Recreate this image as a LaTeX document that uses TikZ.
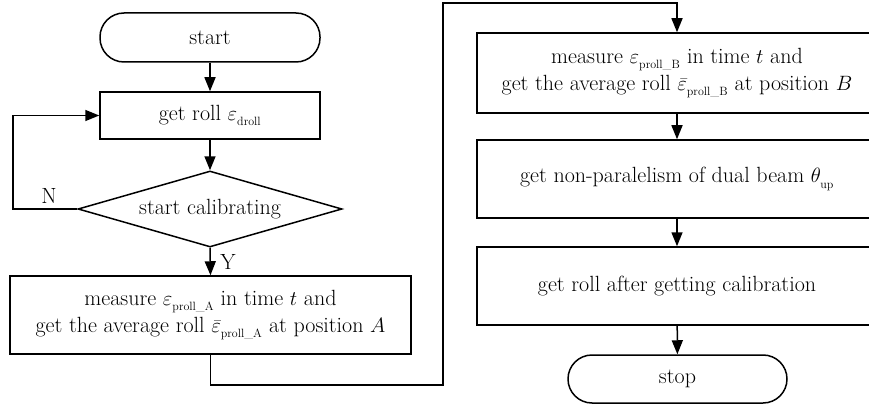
\documentclass[tikz,border=0pt]{standalone}
\usetikzlibrary{shapes.geometric,arrows.meta}
% small, lowered upright subscript text
\newcommand{\subtx}[1]{\raisebox{-2.5pt}{\mbox{\fontsize{12}{12}\selectfont #1}}}
\begin{document}
\begin{tikzpicture}[x=1pt,y=1pt,
  line width=1.5pt,
  every node/.style={font=\fontsize{22}{27}\selectfont},
  proc/.style={draw, rectangle, align=center, inner sep=0pt},
  term/.style={draw, rectangle, rounded corners=24pt, inner sep=0pt},
  decide/.style={draw, diamond, aspect=3.47, inner sep=0pt, minimum width=264pt, minimum height=76pt},
  arr/.style={-{Triangle[length=14pt,width=11pt]}},
  lbl/.style={font=\fontsize{22}{26}\selectfont}
]
\useasboundingbox (0,0) rectangle (869,410);

% left column
\node[term, minimum width=220pt, minimum height=49pt] (start) at (210,372.5) {start};
\node[proc, minimum width=220pt, minimum height=47pt] (roll) at (210,294.5) {get roll $\varepsilon_{\subtx{droll}}$};
\node[decide] (dec) at (210,201) {start calibrating};
\node[proc, minimum width=401pt, minimum height=78pt] (measA) at (210.5,95)
  {measure $\varepsilon_{\subtx{proll\_A}}$ in time $t$ and\\
   get the average roll $\bar{\varepsilon}_{\subtx{proll\_A}}$ at position $A$};

% right column
\node[proc, minimum width=400pt, minimum height=80pt] (measB) at (677,337)
  {measure $\varepsilon_{\subtx{proll\_B}}$ in time $t$ and\\
   get the average roll $\bar{\varepsilon}_{\subtx{proll\_B}}$ at position $B$};
\node[proc, minimum width=400pt, minimum height=78pt] (par) at (677,231)
  {get non-paralelism of dual beam $\theta_{\subtx{up}}$};
\node[proc, minimum width=400pt, minimum height=78pt] (cal) at (677,124)
  {get roll after getting calibration};
\node[term, minimum width=219pt, minimum height=48pt] (stop) at (677.5,31) {stop};

% loop and link coordinates
\coordinate (loopB) at (13,201);
\coordinate (linkA) at (443,25);
\coordinate (linkB) at (443,407);

% connectors
\draw[arr] (start) -- (roll);
\draw[arr] (roll) -- (dec);
\draw[arr] (dec.south) -- (measA.north);
\draw[arr] (dec.west) -- (loopB) |- (roll.west);
\draw[arr] (measA.south) |- (linkA) -- (linkB) -| (measB.north);
\draw[arr] (measB) -- (par);
\draw[arr] (par) -- (cal);
\draw[arr] (cal) -- (stop);

% branch labels
\node[lbl] (nlab) at (49,214) {N};
\node[lbl] (ylab) at (228,148) {Y};
\end{tikzpicture}
\end{document}
